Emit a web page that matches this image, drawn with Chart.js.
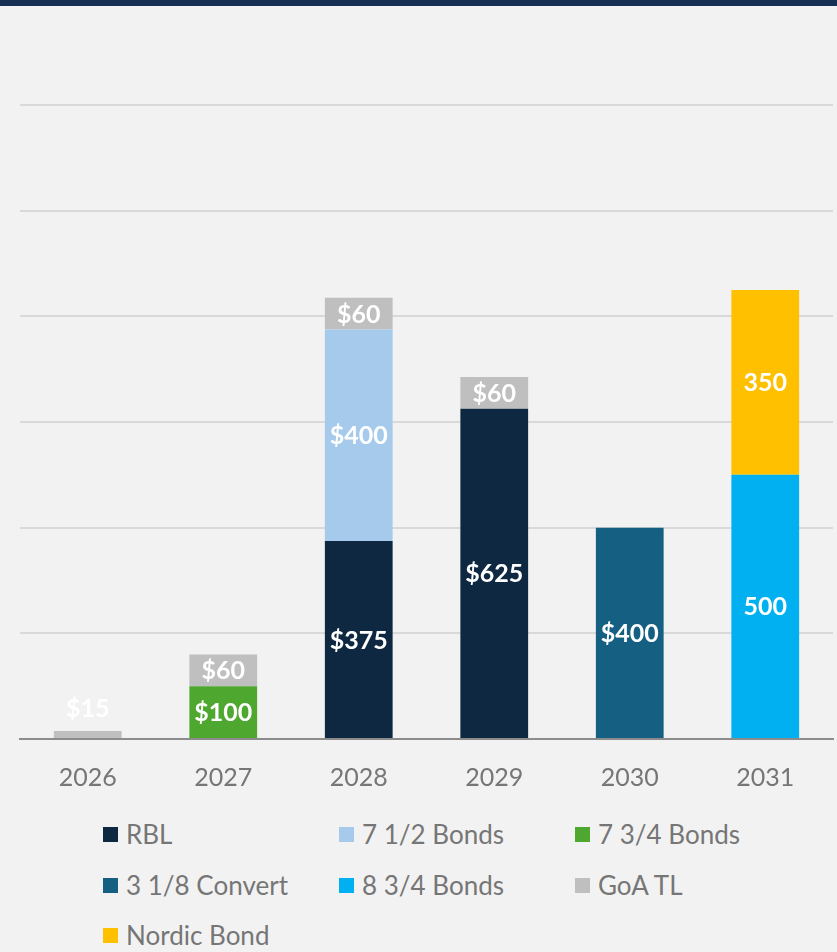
<!DOCTYPE html>
<html>
<head>
<meta charset="utf-8">
<script src="https://cdn.jsdelivr.net/npm/chart.js@4.4.1/dist/chart.umd.min.js"></script>
<style>
  body { margin: 0; background: #f2f2f2; width: 837px; height: 952px; overflow: hidden; font-family: Lato, sans-serif; }
  #topbar { position: absolute; left: 0; top: 0; width: 837px; height: 6px; background: #162f52; }
  #wrap { position: absolute; left: 0; top: 0; width: 837px; height: 800px; }
  .item { position: absolute; display: flex; align-items: center; height: 30px; font-size: 26px; color: #767676; white-space: nowrap; }
  .box { width: 15px; height: 15px; margin-right: 8px; }
</style>
</head>
<body>
<div id="topbar"></div>
<div id="wrap"><canvas id="chart"></canvas></div>
<div id="legend"></div>
<script>
/* Years on the x axis. */
const years = ["2026", "2027", "2028", "2029", "2030", "2031"]

/* Maturities per instrument ($M), bottom of the stack first. */
const rbl = [null, null, 375, 625, null, null]
const bonds712 = [null, null, 400, null, null, null]
const bonds734 = [null, 100, null, null, null, null]
const convert318 = [null, null, null, null, 400, null]
const bonds834 = [null, null, null, null, null, 500]
const goaTL = [15, 60, 60, 60, null, null]
const nordicBond = [null, null, null, null, null, 350]

/* Series names, colours and label prefixes. */
const seriesNames = ["RBL", "7 1/2 Bonds", "7 3/4 Bonds", "3 1/8 Convert", "8 3/4 Bonds", "GoA TL", "Nordic Bond"]
const seriesData = [rbl, bonds712, bonds734, convert318, bonds834, goaTL, nordicBond]
const seriesColors = ["#0e2841", "#a6caec", "#4ea72e", "#156082", "#00b0f0", "#bfbfbf", "#ffc000"]
const labelPrefix = ["$", "$", "$", "$", "", "$", ""]

/* Axis range. */
const yMax = 1200
const yStep = 200

/* Draw value labels inside each segment (or above it when too small). */
const valueLabels = {
  id: "valueLabels",
  afterDatasetsDraw(chart) {
    const ctx = chart.ctx
    ctx.save()
    ctx.font = "bold 25px Lato"
    ctx.fillStyle = "#ffffff"
    ctx.textAlign = "center"
    ctx.textBaseline = "middle"
    chart.data.datasets.forEach((ds, i) => {
      const meta = chart.getDatasetMeta(i)
      meta.data.forEach((bar, j) => {
        const value = ds.data[j]
        if (value == null) return
        const { x, y, base } = bar.getProps(["x", "y", "base"], true)
        const h = base - y
        const ty = h < 24 ? y - 22 : (y + base) / 2 + 1
        ctx.fillText(labelPrefix[i] + value, x, ty)
      })
    })
    ctx.restore()
  }
}

const datasets = seriesNames.map((name, i) => ({
  label: name,
  data: seriesData[i],
  backgroundColor: seriesColors[i],
  borderWidth: 0,
  barPercentage: 0.5,
  categoryPercentage: 1
}))

new Chart(document.getElementById("chart"), {
  type: "bar",
  data: { labels: years, datasets },
  options: {
    responsive: true,
    maintainAspectRatio: false,
    animation: false,
    layout: { padding: { top: 105, left: 20, right: 4, bottom: 0 } },
    plugins: {
      legend: { display: false },
      tooltip: { enabled: false }
    },
    scales: {
      x: {
        stacked: true,
        grid: { display: false },
        border: { display: true, color: "#8c8c8c", width: 2 },
        ticks: { color: "#767676", font: { family: "Lato", size: 25 }, padding: 16 },
        afterFit: scale => { scale.height = 61 }
      },
      y: {
        stacked: true,
        min: 0,
        max: yMax,
        ticks: { display: false, stepSize: yStep },
        border: { display: false },
        grid: {
          color: ctx => ctx.tick && ctx.tick.value === 0 ? "rgba(0,0,0,0)" : "#d9d9d9",
          lineWidth: 2,
          drawTicks: false
        },
        afterFit: scale => { scale.width = 0 }
      }
    }
  },
  plugins: [valueLabels]
})

/* HTML legend in three fixed columns. */
const legend = document.getElementById("legend")
const colX = [103, 339, 575]
const rowY = [819, 870, 920]
seriesNames.forEach((name, i) => {
  const item = document.createElement("div")
  item.className = "item"
  item.style.left = colX[i % 3] + "px"
  item.style.top = rowY[Math.floor(i / 3)] + "px"
  const box = document.createElement("span")
  box.className = "box"
  box.style.background = seriesColors[i]
  const text = document.createElement("span")
  text.innerText = name
  item.appendChild(box)
  item.appendChild(text)
  legend.appendChild(item)
})
</script>
</body>
</html>
